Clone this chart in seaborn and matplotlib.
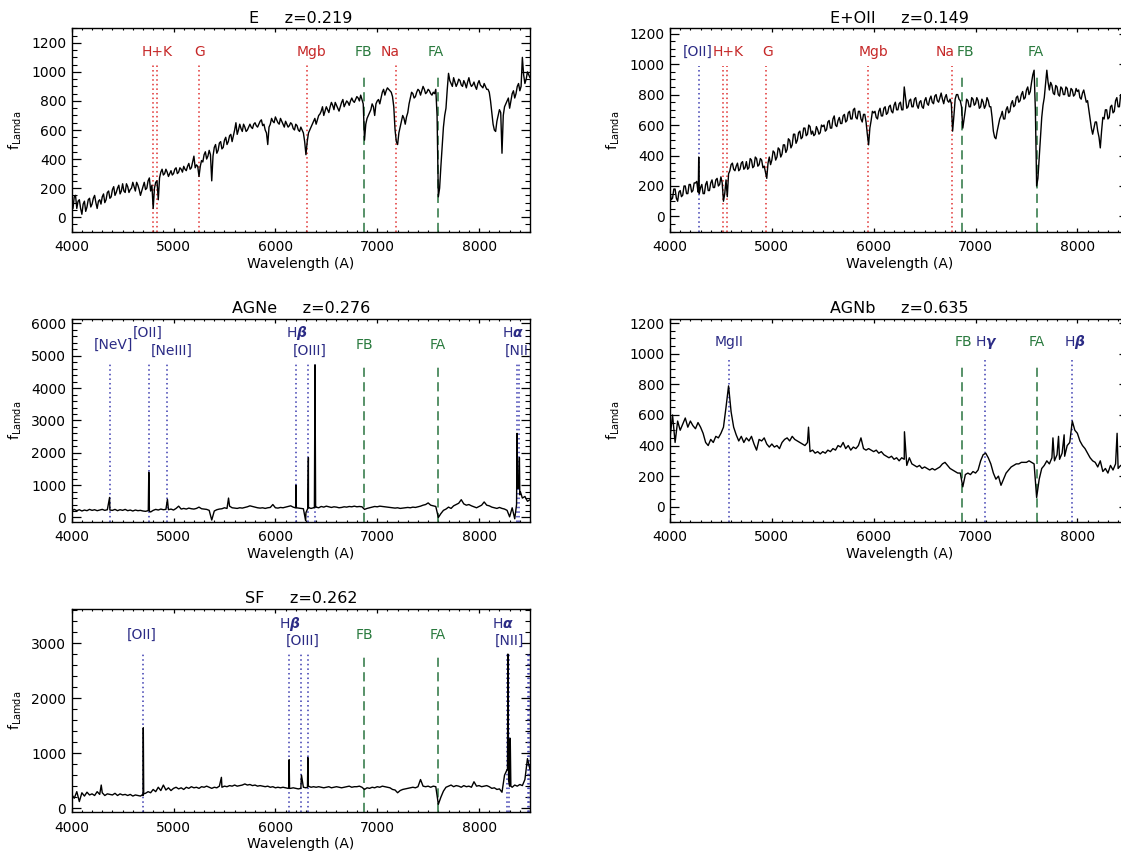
import numpy as np
import pandas as pd
import matplotlib
matplotlib.use("Agg")
import matplotlib.pyplot as plt
import seaborn as sns
from matplotlib.ticker import MultipleLocator

# ---------------- data ----------------
grid_start, grid_step = 4000, 25   # wavelength sampling of the flux lists (mids at +12.5)

flux_E = [
    100, 140, 60, 120, 20, 110, 70, 130, 90, 150,
    60, 120, 140, 100, 170, 130, 190, 150, 200, 160,
    230, 170, 210, 190, 240, 180, 220, 150, 210, 190,
    250, 180, 60, 240, 120, 310, 290, 330, 280, 320,
    300, 340, 310, 330, 350, 320, 370, 340, 420, 360,
    280, 390, 430, 400, 460, 250, 480, 440, 510, 470,
    530, 500, 560, 520, 600, 570, 640, 590, 620, 600,
    640, 610, 650, 620, 660, 630, 600, 500, 640, 660,
    690, 650, 680, 640, 660, 620, 650, 610, 640, 600,
    620, 580, 430, 580, 620, 660, 640, 700, 730, 700,
    760, 720, 790, 740, 770, 730, 790, 760, 800, 770,
    820, 790, 830, 800, 810, 530, 680, 720, 780, 700,
    800, 780, 860, 840, 890, 870, 830, 600, 500, 620,
    700, 640, 720, 820, 850, 830, 880, 840, 900, 850,
    880, 850, 860, 880, 140, 350, 620, 750, 990, 920,
    960, 900, 950, 910, 940, 890, 960, 900, 930, 880,
    940, 900, 920, 880, 860, 720, 600, 660, 740, 440,
    760, 800, 750, 850, 820, 900, 870, 1100, 920, 1000,
    960]
mid_E = [
    60, 150, 110, 60, 90, 40, 120, 70, 130, 100,
    110, 90, 160, 120, 180, 140, 210, 170, 220, 180,
    180, 230, 170, 200, 210, 240, 190, 180, 240, 200,
    270, 220, 200, 250, 270, 330, 300, 310, 300, 290,
    330, 300, 340, 310, 330, 350, 330, 380, 340, 350,
    350, 380, 450, 420, 430, 420, 500, 460, 520, 480,
    550, 520, 570, 560, 650, 600, 610, 640, 590, 620,
    620, 640, 630, 640, 670, 640, 580, 620, 680, 650,
    670, 640, 660, 620, 640, 630, 640, 600, 630, 590,
    600, 520, 520, 600, 640, 680, 670, 710, 760, 730,
    740, 760, 770, 790, 750, 760, 810, 780, 790, 800,
    800, 810, 820, 840, 780, 640, 700, 740, 760, 780,
    810, 820, 880, 870, 880, 860, 760, 520, 580, 660,
    680, 690, 780, 860, 820, 860, 870, 870, 880, 860,
    870, 840, 850, 700, 200, 480, 700, 880, 940, 900,
    930, 920, 940, 900, 920, 930, 920, 910, 900, 920,
    910, 890, 900, 880, 800, 640, 590, 700, 720, 700,
    780, 820, 800, 870, 850, 920, 900, 980, 950, 980]
feat_wl_E = []
feat_fl_E = []

flux_EO = [
    160, 120, 180, 100, 170, 140, 200, 150, 210, 170,
    220, 160, 190, 150, 210, 170, 220, 190, 240, 200,
    260, 100, 240, 280, 340, 310, 330, 300, 350, 310,
    360, 320, 370, 330, 380, 340, 370, 330, 250, 390,
    370, 420, 390, 440, 410, 470, 440, 500, 470, 540,
    500, 560, 520, 580, 540, 590, 560, 540, 570, 550,
    590, 560, 620, 580, 640, 600, 630, 610, 660, 620,
    680, 640, 700, 650, 690, 640, 670, 620, 470, 630,
    680, 650, 690, 660, 710, 670, 720, 690, 730, 700,
    740, 700, 850, 710, 760, 720, 770, 730, 750, 720,
    760, 740, 770, 750, 790, 760, 780, 770, 780, 760,
    770, 560, 770, 800, 760, 580, 700, 760, 720, 770,
    740, 760, 720, 750, 730, 760, 720, 560, 510, 600,
    660, 640, 700, 680, 740, 720, 780, 750, 800, 770,
    830, 800, 880, 960, 200, 380, 650, 780, 960, 830,
    860, 800, 850, 790, 840, 800, 840, 790, 830, 800,
    820, 780, 810, 790, 760, 640, 540, 620, 560, 450,
    650, 700, 640, 720, 680, 760, 720, 800, 750, 810,
    780]
mid_EO = [
    110, 180, 120, 160, 130, 200, 150, 210, 160, 220,
    230, 150, 210, 150, 230, 170, 240, 190, 250, 210,
    220, 150, 130, 300, 350, 300, 350, 310, 360, 320,
    310, 380, 320, 390, 330, 380, 320, 290, 350, 340,
    430, 370, 450, 390, 470, 420, 510, 450, 540, 480,
    550, 510, 580, 530, 600, 540, 530, 590, 540, 600,
    600, 570, 630, 580, 660, 590, 650, 610, 670, 630,
    690, 640, 710, 640, 690, 620, 670, 540, 580, 690,
    690, 640, 710, 660, 720, 680, 730, 680, 750, 700,
    750, 700, 780, 720, 770, 720, 780, 710, 760, 710,
    780, 730, 790, 740, 800, 750, 810, 740, 800, 750,
    740, 660, 800, 770, 720, 640, 770, 720, 780, 730,
    780, 710, 770, 710, 780, 720, 650, 520, 560, 640,
    690, 640, 720, 690, 760, 730, 790, 760, 820, 780,
    850, 820, 930, 700, 250, 520, 730, 870, 880, 880,
    810, 860, 800, 850, 800, 850, 790, 840, 790, 840,
    830, 770, 830, 750, 700, 580, 580, 620, 520, 560,
    640, 700, 650, 730, 690, 780, 720, 790, 760, 820]
feat_wl_EO = [4278, 4282, 4287]
feat_fl_EO = [190, 390, 180]

flux_AGNe = [
    200, 250, 210, 240, 200, 230, 210, 250, 220, 240,
    210, 230, 250, 220, 240, 230, 220, 250, 210, 240,
    220, 250, 210, 230, 200, 230, 210, 220, 200, 190,
    210, 170, 220, 250, 230, 260, 240, 250, 240, 260,
    230, 280, 350, 260, 280, 260, 290, 270, 260, 280,
    320, 270, 260, 250, 220, -80, 200, 240, 260, 270,
    300, 280, 350, 300, 290, 280, 300, 290, 310, 330,
    360, 340, 320, 300, 290, 300, 280, 300, 310, 400,
    300, 290, 310, 300, 320, 340, 360, 320, 300, 290,
    280, 270, 150, 300, 280, 300, 320, 300, 340, 320,
    350, 330, 310, 330, 320, 300, 310, 330, 320, 340,
    330, 350, 330, 340, 330, 250, 280, 300, 320, 340,
    330, 350, 340, 330, 320, 310, 300, 290, 300, 280,
    290, 300, 310, 300, 320, 310, 330, 350, 380, 400,
    450, 380, 360, 340, 0, 120, 220, 260, 320, 280,
    360, 400, 440, 550, 420, 380, 400, 360, 330, 300,
    340, 380, 480, 380, 360, 320, 300, 280, 310, 280,
    260, 220, 20, 300, -40, 900, 700, 600, 650, 500,
    550]
mid_AGNe = []
feat_wl_AGNe = [4372, 4752, 4757, 4763, 4940, 5540, 6196, 6201, 6206, 6297,
                6318, 6324, 6330, 6383, 6389, 6395, 8368, 8373, 8386, 8396, 8405]
feat_fl_AGNe = [620, 220, 1400, 190, 560, 600, 300, 1000, 300, -100,
                280, 1850, 300, 300, 4720, 320, 400, 2600, 900, 1850, 800]

flux_AGNb = [
    450, 600, 420, 560, 500, 540, 580, 520, 560, 530,
    510, 550, 520, 480, 420, 400, 440, 420, 460, 450,
    480, 520, 650, 790, 620, 520, 470, 430, 460, 420,
    450, 430, 460, 410, 370, 440, 430, 450, 410, 390,
    410, 390, 400, 380, 420, 440, 450, 430, 460, 440,
    430, 420, 410, 400, 420, 360, 370, 350, 360, 345,
    360, 350, 370, 360, 380, 370, 400, 390, 420, 380,
    400, 370, 390, 380, 400, 450, 380, 370, 380, 370,
    360, 370, 350, 360, 340, 330, 320, 330, 310, 320,
    300, 320, 310, 270, 320, 280, 270, 260, 270, 250,
    260, 250, 240, 250, 240, 250, 260, 280, 290, 270,
    250, 240, 230, 220, 220, 130, 210, 220, 210, 230,
    220, 240, 300, 340, 350, 320, 280, 220, 180, 200,
    140, 180, 220, 240, 260, 270, 280, 280, 290, 290,
    290, 300, 290, 280, 60, 180, 250, 270, 300, 280,
    320, 300, 340, 310, 350, 330, 400, 420, 560, 500,
    480, 430, 400, 380, 350, 320, 300, 290, 260, 300,
    230, 250, 220, 270, 240, 280, 250, 270, 260, 280,
    300]
mid_AGNb = []
feat_wl_AGNb = [5360, 6302, 7760, 7815, 7870, 8390]
feat_fl_AGNb = [520, 490, 450, 460, 470, 480]

flux_SF = [
    250, 180, 300, 120, 280, 220, 290, 240, 260, 230,
    300, 250, 280, 230, 260, 250, 240, 270, 230, 260,
    240, 250, 230, 250, 220, 240, 230, 220, 230, 270,
    300, 280, 340, 300, 380, 320, 420, 330, 370, 320,
    360, 380, 350, 370, 340, 380, 360, 390, 370, 380,
    360, 390, 380, 400, 380, 360, 380, 370, 400, 380,
    400, 390, 410, 400, 420, 400, 410, 420, 440, 420,
    430, 410, 420, 400, 410, 400, 390, 400, 380, 390,
    370, 380, 370, 380, 370, 360, 360, 370, 360, 350,
    360, 380, 370, 400, 380, 390, 380, 390, 380, 370,
    380, 390, 370, 380, 390, 380, 370, 380, 390, 400,
    380, 390, 390, 400, 380, 340, 370, 360, 380, 370,
    390, 380, 400, 390, 380, 370, 340, 330, 280, 320,
    340, 350, 360, 370, 380, 370, 390, 520, 400, 390,
    400, 380, 400, 390, 70, 200, 310, 380, 400, 420,
    390, 410, 400, 380, 410, 390, 400, 380, 480, 400,
    410, 390, 400, 410, 390, 360, 370, 340, 350, 290,
    600, 700, 400, 380, 420, 400, 430, 410, 520, 900,
    700]
mid_SF = []
feat_wl_SF = [4290, 4699, 4703, 4707, 5470, 6131, 6135, 6139, 6256,
              6315, 6319, 6323, 8279, 8283, 8290, 8306, 8312]
feat_fl_SF = [420, 250, 1460, 260, 560, 370, 880, 360, 600,
              380, 920, 400, 700, 2800, 500, 1270, 400]

# marker lines: wavelength, kind ('abs' red dotted, 'em' blue dotted, 'sky' green dashed)
sky_wl = [6870, 7600]
lines_E = [4795, 4838, 5246, 6308, 7184]
kinds_E = ['abs'] * 5
lines_EO = [4282, 4520, 4560, 4945, 5946, 6771]
kinds_EO = ['em', 'abs', 'abs', 'abs', 'abs', 'abs']
lines_AGNe = [4372, 4757, 4939, 6201, 6324, 6389, 8373, 8396]
kinds_AGNe = ['em'] * 8
lines_AGNb = [4575, 7096, 7948]
kinds_AGNb = ['em'] * 3
lines_SF = [4703, 6135, 6256, 6319, 8270, 8295, 8477, 8494]
kinds_SF = ['em'] * 8

# labels: text, wavelength, row ('u' upper, 'm' middle, 'l' lower), kind
labels_E = [("H+K", 4835, 'm', 'abs'), ("G", 5256, 'm', 'abs'), ("Mgb", 6350, 'm', 'abs'),
            ("FB", 6862, 'm', 'sky'), ("Na", 7131, 'm', 'abs'), ("FA", 7579, 'm', 'sky')]
labels_EO = [("[OII]", 4269, 'm', 'em'), ("H+K", 4569, 'm', 'abs'), ("G", 4958, 'm', 'abs'),
             ("Mgb", 5999, 'm', 'abs'), ("Na", 6703, 'm', 'abs'), ("FB", 6896, 'm', 'sky'),
             ("FA", 7594, 'm', 'sky')]
labels_AGNe = [("[NeV]", 4409, 'm', 'em'), ("[OII]", 4747, 'u', 'em'), ("[NeIII]", 4980, 'l', 'em'),
               (r"H$\boldsymbol{\beta}$", 6213, 'u', 'em'), ("[OIII]", 6341, 'l', 'em'),
               ("FB", 6872, 'm', 'sky'), ("FA", 7591, 'm', 'sky'),
               (r"H$\boldsymbol{\alpha}$", 8334, 'u', 'em'), ("[NII]", 8400, 'l', 'em')]
labels_AGNb = [("MgII", 4577, 'm', 'em'), ("FB", 6877, 'm', 'sky'), (r"H$\boldsymbol{\gamma}$", 7110, 'm', 'em'),
               ("FA", 7603, 'm', 'sky'), (r"H$\boldsymbol{\beta}$", 7970, 'm', 'em')]
labels_SF = [("[OII]", 4690, 'm', 'em'), (r"H$\boldsymbol{\beta}$", 6141, 'u', 'em'),
             ("[OIII]", 6266, 'l', 'em'), ("FB", 6872, 'm', 'sky'), ("FA", 7591, 'm', 'sky'),
             (r"H$\boldsymbol{\alpha}$", 8236, 'u', 'em'), ("[NII]", 8303, 'l', 'em')]

names = ["E", "E+OII", "AGNe", "AGNb", "SF"]
redshifts = ["0.219", "0.149", "0.276", "0.635", "0.262"]

# ---------------- styling ----------------
sns.set_theme(style="ticks")
plt.rcParams['font.family'] = ['DejaVu Sans']
plt.rcParams['mathtext.fontset'] = 'dejavusans'
plt.rcParams['text.color'] = 'black'
plt.rcParams['axes.labelcolor'] = 'black'
plt.rcParams['xtick.color'] = 'black'
plt.rcParams['ytick.color'] = 'black'

text_col = {'abs': '#c62828', 'em': '#2b2b85', 'sky': '#2a7a3e'}
line_col = {'abs': '#e03030', 'em': '#3a3ab0', 'sky': '#2a7440'}

W, H = 1121, 856
col_left = [71.7, 670.0]
row_top = [28.3, 318.6, 608.9]
aw, ah = 458.3, 203.4

panels = [
    dict(flux=flux_E, mid=mid_E, fwl=feat_wl_E, ffl=feat_fl_E, lines=lines_E, kinds=kinds_E,
         labels=labels_E, ylim=(-100, 1300), ymaj=200, ymin=50, rc=(0, 0), dot_top=0.82,
         rows={'u': 0.885, 'm': 0.885, 'l': 0.885}),
    dict(flux=flux_EO, mid=mid_EO, fwl=feat_wl_EO, ffl=feat_fl_EO, lines=lines_EO, kinds=kinds_EO,
         labels=labels_EO, ylim=(-100, 1235), ymaj=200, ymin=50, rc=(0, 1), dot_top=0.816,
         rows={'u': 0.885, 'm': 0.885, 'l': 0.885}),
    dict(flux=flux_AGNe, mid=mid_AGNe, fwl=feat_wl_AGNe, ffl=feat_fl_AGNe, lines=lines_AGNe,
         kinds=kinds_AGNe, labels=labels_AGNe, ylim=(-140, 6150), ymaj=1000, ymin=200, rc=(1, 0),
         dot_top=0.788, rows={'u': 0.93, 'm': 0.87, 'l': 0.842}),
    dict(flux=flux_AGNb, mid=mid_AGNb, fwl=feat_wl_AGNb, ffl=feat_fl_AGNb, lines=lines_AGNb,
         kinds=kinds_AGNb, labels=labels_AGNb, ylim=(-100, 1230), ymaj=200, ymin=50, rc=(1, 1),
         dot_top=0.813, rows={'u': 0.883, 'm': 0.883, 'l': 0.883}),
    dict(flux=flux_SF, mid=mid_SF, fwl=feat_wl_SF, ffl=feat_fl_SF, lines=lines_SF, kinds=kinds_SF,
         labels=labels_SF, ylim=(-75, 3620), ymaj=1000, ymin=200, rc=(2, 0), dot_top=0.782,
         rows={'u': 0.926, 'm': 0.87, 'l': 0.844}),
]

fig = plt.figure(figsize=(W / 100, H / 100), dpi=100)

for name, z, p in zip(names, redshifts, panels):
    r, c = p['rc']
    ax = fig.add_axes([col_left[c] / W, 1 - (row_top[r] + ah) / H, aw / W, ah / H])
    grid = grid_start + grid_step * np.arange(len(p['flux']))
    mids = grid_start + grid_step / 2 + grid_step * np.arange(len(p['mid']))
    df = pd.DataFrame({
        'wl': np.concatenate([grid, mids, np.array(p['fwl'], dtype=float)]),
        'flux': np.concatenate([np.array(p['flux'], dtype=float),
                                np.array(p['mid'], dtype=float),
                                np.array(p['ffl'], dtype=float)])})
    df = df.sort_values('wl')
    sns.lineplot(data=df, x='wl', y='flux', ax=ax, color='black', lw=1.0,
                 estimator=None, sort=True)

    # marker lines
    for wl, kind in zip(p['lines'], p['kinds']):
        ax.axvline(wl, ymin=0, ymax=p['dot_top'], color=line_col[kind], lw=1.1,
                   ls=(0, (1, 2)), zorder=1)
    for wl in sky_wl:
        ax.axvline(wl, ymin=0, ymax=0.78, color=line_col['sky'], lw=1.1,
                   ls=(0, (6, 3.5)), zorder=1)
    trans = ax.get_xaxis_transform()
    for txt, wl, row, kind in p['labels']:
        ax.text(wl, p['rows'][row], txt, transform=trans, ha='center', va='center',
                fontsize=10, color=text_col[kind], clip_on=True)

    ax.set_xlim(4000, 8500)
    ax.set_ylim(*p['ylim'])
    ax.xaxis.set_major_locator(MultipleLocator(1000))
    ax.xaxis.set_minor_locator(MultipleLocator(100))
    ax.yaxis.set_major_locator(MultipleLocator(p['ymaj']))
    ax.yaxis.set_minor_locator(MultipleLocator(p['ymin']))
    ax.tick_params(axis='x', which='major', direction='in', length=2.9, width=0.9,
                   top=True, bottom=True, pad=6, labelsize=10)
    ax.tick_params(axis='x', which='minor', direction='in', length=1.5, width=0.8,
                   top=True, bottom=True)
    ax.tick_params(axis='y', which='major', direction='in', length=6.5, width=0.9,
                   left=True, right=True, pad=4, labelsize=10)
    ax.tick_params(axis='y', which='minor', direction='in', length=3.3, width=0.8,
                   left=True, right=True)
    for s in ax.spines.values():
        s.set_linewidth(1.0)
        s.set_color('black')
    ax.set_title(f"{name}     z={z}", fontsize=11.5, pad=4)
    ax.set_xlabel("Wavelength (A)", fontsize=10, labelpad=2)
    ax.set_ylabel(r"f$_{\rm Lamda}$", fontsize=10, labelpad=5)

fig.savefig("out.png", dpi=100)
